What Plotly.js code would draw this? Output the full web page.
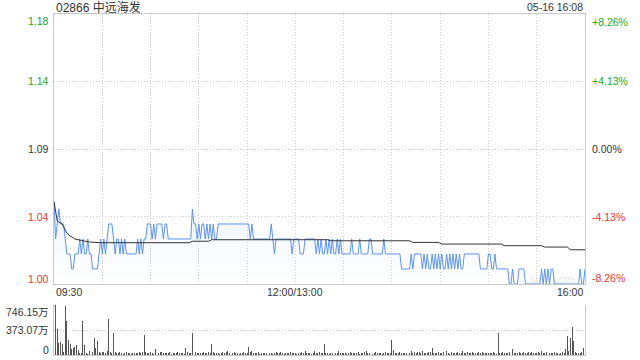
<!DOCTYPE html>
<html><head><meta charset="utf-8">
<script src="https://cdn.plot.ly/plotly-3.0.1.min.js"></script>
<style>html,body{margin:0;padding:0;background:#fff;}#chart{width:640px;height:360px;}</style>
</head><body><div id="chart"></div>
<script>
const chartTitle = '02866 中远海发';
const stamp = '05-16 16:08';
const prevClose = 1.09;
const pctLevels = [8.26, 4.13, 0, -4.13, -8.26];
const leftLabels = ['1.18', '1.14', '1.09', '1.04', '1.00'];
const rightLabels = ['+8.26%', '+4.13%', '0.00%', '-4.13%', '-8.26%'];
const timeLabels = ['09:30', '12:00/13:00', '16:00'];
const timeLabelMinutes = [0, 150, 330];
const volTicks = [746.15, 373.07, 0];
const volLabels = ['746.15万', '373.07万', '0'];

// one price per trading minute (09:30 .. 16:00, lunch removed)
const prices = [
1.055,1.03,1.04,1.05,1.04,1.04,1.04,1.03,1.02,1.02,
1.02,1.01,1.01,1.02,1.02,1.02,1.03,1.02,1.03,1.02,
1.02,1.03,1.02,1.02,1.01,1.01,1.01,1.01,1.02,1.03,
1.02,1.03,1.02,1.03,1.04,1.04,1.04,1.03,1.02,1.03,
1.03,1.02,1.03,1.02,1.03,1.02,1.02,1.02,1.02,1.02,
1.02,1.02,1.03,1.02,1.03,1.02,1.03,1.03,1.04,1.04,
1.04,1.03,1.04,1.03,1.04,1.04,1.04,1.04,1.03,1.04,
1.04,1.03,1.03,1.03,1.03,1.03,1.03,1.03,1.03,1.03,
1.03,1.03,1.03,1.03,1.03,1.03,1.05,1.04,1.04,1.03,
1.04,1.03,1.04,1.04,1.03,1.04,1.03,1.04,1.03,1.04,
1.03,1.03,1.04,1.04,1.04,1.04,1.04,1.04,1.04,1.04,
1.04,1.04,1.04,1.04,1.04,1.04,1.04,1.04,1.04,1.04,
1.04,1.04,1.03,1.04,1.03,1.03,1.03,1.03,1.03,1.03,
1.03,1.03,1.03,1.03,1.03,1.04,1.03,1.02,1.03,1.03,
1.03,1.03,1.03,1.03,1.03,1.03,1.03,1.03,1.02,1.03,
1.03,1.03,1.03,1.02,1.02,1.02,1.03,1.03,1.03,1.03,
1.03,1.03,1.03,1.02,1.03,1.02,1.03,1.02,1.02,1.03,
1.02,1.03,1.02,1.03,1.02,1.02,1.03,1.02,1.03,1.02,
1.02,1.02,1.02,1.02,1.02,1.03,1.02,1.02,1.02,1.02,
1.03,1.02,1.02,1.02,1.02,1.02,1.03,1.03,1.02,1.02,
1.02,1.02,1.02,1.02,1.02,1.03,1.02,1.02,1.02,1.02,
1.02,1.02,1.02,1.02,1.02,1.02,1.01,1.01,1.01,1.01,
1.01,1.01,1.02,1.01,1.02,1.02,1.02,1.02,1.02,1.01,
1.02,1.01,1.02,1.01,1.01,1.02,1.01,1.02,1.01,1.02,
1.01,1.02,1.01,1.01,1.02,1.01,1.02,1.01,1.02,1.01,
1.02,1.01,1.02,1.01,1.01,1.02,1.02,1.02,1.02,1.02,
1.02,1.02,1.02,1.02,1.02,1.01,1.01,1.01,1.01,1.01,
1.02,1.02,1.01,1.01,1.02,1.01,1.01,1.01,1.01,1.01,
1.01,1.01,1.01,1.00,1.00,1.01,1.00,1.00,1.00,1.01,
1.01,1.01,1.01,1.00,1.00,1.00,1.00,1.00,1.00,1.00,
1.00,1.00,1.00,1.01,1.00,1.01,1.00,1.01,1.00,1.01,
1.01,1.00,1.00,1.00,1.00,1.00,1.00,1.00,1.00,1.00,
1.00,1.00,1.00,1.00,1.00,1.00,1.00,1.01,1.00,1.00,
1.01
];

// volume per minute, in 万 shares
const volumes = [
497,746,385,179,199,159,50,736,510,226,
160,94,104,114,154,80,30,25,512,154,
30,20,60,25,40,254,104,204,40,30,
50,40,30,60,542,45,30,328,40,35,
25,40,30,20,35,45,30,25,20,30,
35,25,30,40,30,45,300,50,30,25,
40,35,20,94,30,25,40,45,30,35,
25,30,40,20,35,30,25,40,30,25,
35,20,100,40,30,25,333,199,40,30,
25,35,30,40,25,30,45,35,164,40,
30,25,35,20,30,40,25,50,60,30,
20,25,40,30,35,20,25,30,45,30,
25,115,40,55,30,25,35,40,20,30,
25,30,35,115,30,25,20,35,40,30,
25,40,30,20,35,25,30,40,25,30,
35,20,30,25,40,30,55,35,25,30,
20,35,60,30,25,40,30,35,164,25,
30,20,35,25,40,30,35,65,30,25,
35,30,20,25,40,30,35,25,30,40,
20,30,25,40,55,35,30,25,20,30,
40,35,25,30,20,35,40,30,25,35,
224,80,35,25,30,40,35,25,30,35,
40,25,60,30,45,35,50,40,30,55,
35,25,30,40,45,100,30,25,35,40,
30,25,40,35,55,30,20,40,30,25,
35,40,30,25,60,35,30,40,25,30,
40,35,30,25,50,35,40,30,25,35,
30,25,35,40,30,20,333,30,25,40,
35,30,25,40,30,90,35,30,25,40,
30,35,40,25,30,45,35,40,30,25,
35,40,30,55,35,30,40,60,35,30,
25,40,30,35,20,30,40,35,90,288,
60,258,422,209,40,30,35,25,40,100,
60
];

// average-price line, read at its corners
const avgMinutes = [0, 2, 5, 8, 10, 13, 17, 22, 28, 84, 86, 96, 98, 170, 172, 221, 223, 239, 241, 278, 280, 303, 305, 319, 321, 330];
const avgPrices = [1.055, 1.042, 1.040, 1.034, 1.032, 1.030, 1.029, 1.028, 1.0275, 1.0275, 1.0285, 1.0285, 1.0295, 1.0295, 1.0288, 1.0288, 1.0277, 1.0277, 1.0266, 1.0266, 1.0255, 1.0255, 1.0246, 1.0246, 1.0228, 1.0228];

const minutes = prices.map((_, i) => i);
const levelPrices = pctLevels.map(p => prevClose * (1 + p / 100));
const green = '#22a822', red = '#ee3333', ink = '#333333';
const levelColors = pctLevels.map(p => p > 0 ? green : (p < 0 ? red : ink));
const FONT = 'Liberation Sans, Arial, Noto Sans CJK SC, sans-serif';
const W = 640, H = 360, L = 54, R = 585;
const grid = '#cfcfcf';

const traces = [
  {x: minutes, y: prices, type: 'scatter', mode: 'lines', line: {color: '#5b93ee', width: 1},
   fill: 'tozeroy', fillcolor: 'rgba(91,147,238,0.05)',
   fillgradient: {type: 'vertical', start: levelPrices[4], stop: 1.055,
     colorscale: [[0, 'rgba(91,147,238,0.0)'], [1, 'rgba(91,147,238,0.10)']]},
   xaxis: 'x', yaxis: 'y', hoverinfo: 'skip'},
  {x: avgMinutes, y: avgPrices, type: 'scatter', mode: 'lines', line: {color: '#333333', width: 1},
   xaxis: 'x', yaxis: 'y', hoverinfo: 'skip'},
  {x: minutes, y: volumes, type: 'bar', marker: {color: '#555555', line: {width: 0}}, width: 0.6,
   xaxis: 'x2', yaxis: 'y2', hoverinfo: 'skip'}
];

const ann = [];
levelPrices.forEach((v, i) => {
  const shiftL = i === 0 ? -7 : (i === 4 ? 5 : 0);
  const shiftR = i === 0 ? -8.5 : (i === 4 ? 6.5 : 0);
  ann.push({xref: 'paper', yref: 'y', x: 51 / W, y: v, xanchor: 'right', yanchor: 'middle', yshift: shiftL,
    text: leftLabels[i], showarrow: false, font: {family: FONT, size: 10.5, color: levelColors[i]}});
  ann.push({xref: 'paper', yref: 'y', x: 590 / W, y: v, xanchor: 'left', yanchor: 'middle', yshift: shiftR,
    text: rightLabels[i], showarrow: false, font: {family: FONT, size: 10.5, color: levelColors[i]}});
});
volTicks.forEach((v, i) => {
  const sh = i === 0 ? -6.5 : (i === 2 ? 5.5 : 0);
  ann.push({xref: 'paper', yref: 'y2', x: 51 / W, y: v, xanchor: 'right', yanchor: 'middle', yshift: sh,
    text: volLabels[i], showarrow: false, font: {family: FONT, size: 10.5, color: ink}});
});
timeLabels.forEach((t, i) => {
  ann.push({xref: 'x', yref: 'paper', x: timeLabelMinutes[i], y: (H - 291.5) / H,
    xanchor: i === 0 ? 'left' : (i === 2 ? 'right' : 'center'), yanchor: 'middle',
    text: t, showarrow: false, font: {family: FONT, size: 10.5, color: ink}});
});
ann.push({xref: 'paper', yref: 'paper', x: L / W, y: (H - 7) / H, xanchor: 'left', yanchor: 'middle',
  text: chartTitle, showarrow: false, font: {family: FONT, size: 12, color: ink}});
ann.push({xref: 'paper', yref: 'paper', x: R / W, y: (H - 6.5) / H, xanchor: 'right', yanchor: 'middle',
  text: stamp, showarrow: false, font: {family: FONT, size: 10.5, color: ink}});
ann.push({xref: 'paper', yref: 'paper', x: 552 / W, y: (H - 278.5) / H, xanchor: 'center', yanchor: 'middle',
  text: 'sina.com', showarrow: false, font: {family: FONT, size: 11, color: 'rgba(150,150,150,0.25)'}});

const xTicks = [];
for (let m = 0; m <= 330; m += 30) xTicks.push(m);

const layout = {
  width: W, height: H, margin: {l: 0, r: 0, t: 0, b: 0}, showlegend: false,
  paper_bgcolor: '#ffffff', plot_bgcolor: '#ffffff', bargap: 0,
  xaxis: {domain: [L / W, R / W], range: [0, 330], anchor: 'y', tickvals: xTicks, showticklabels: false, ticks: '',
    showgrid: true, gridcolor: grid, griddash: '1px,2px', zeroline: false, showline: true, mirror: true, linecolor: '#c8c8c8', linewidth: 1},
  yaxis: {domain: [(H - 284) / H, (H - 14) / H], range: [levelPrices[4], levelPrices[0]], anchor: 'x',
    tickvals: levelPrices.slice(1, 4), showticklabels: false, ticks: '', showgrid: true, gridcolor: grid, griddash: '1px,2px',
    zeroline: false, showline: true, mirror: true, linecolor: '#c8c8c8', linewidth: 1},
  xaxis2: {domain: [L / W, R / W], range: [0, 330], anchor: 'y2', showticklabels: false, ticks: '', showgrid: false,
    zeroline: false, showline: true, linecolor: '#c8c8c8', linewidth: 1},
  yaxis2: {domain: [5 / H, 55 / H], range: [0, volTicks[0]], anchor: 'x2', tickvals: volTicks.slice(0, 2),
    showticklabels: false, ticks: '', showgrid: true, gridcolor: grid, griddash: '1px,2px', zeroline: false,
    showline: true, mirror: true, linecolor: '#c8c8c8', linewidth: 1},
  annotations: ann
};

Plotly.newPlot('chart', traces, layout, {staticPlot: true, displayModeBar: false});
</script></body></html>
